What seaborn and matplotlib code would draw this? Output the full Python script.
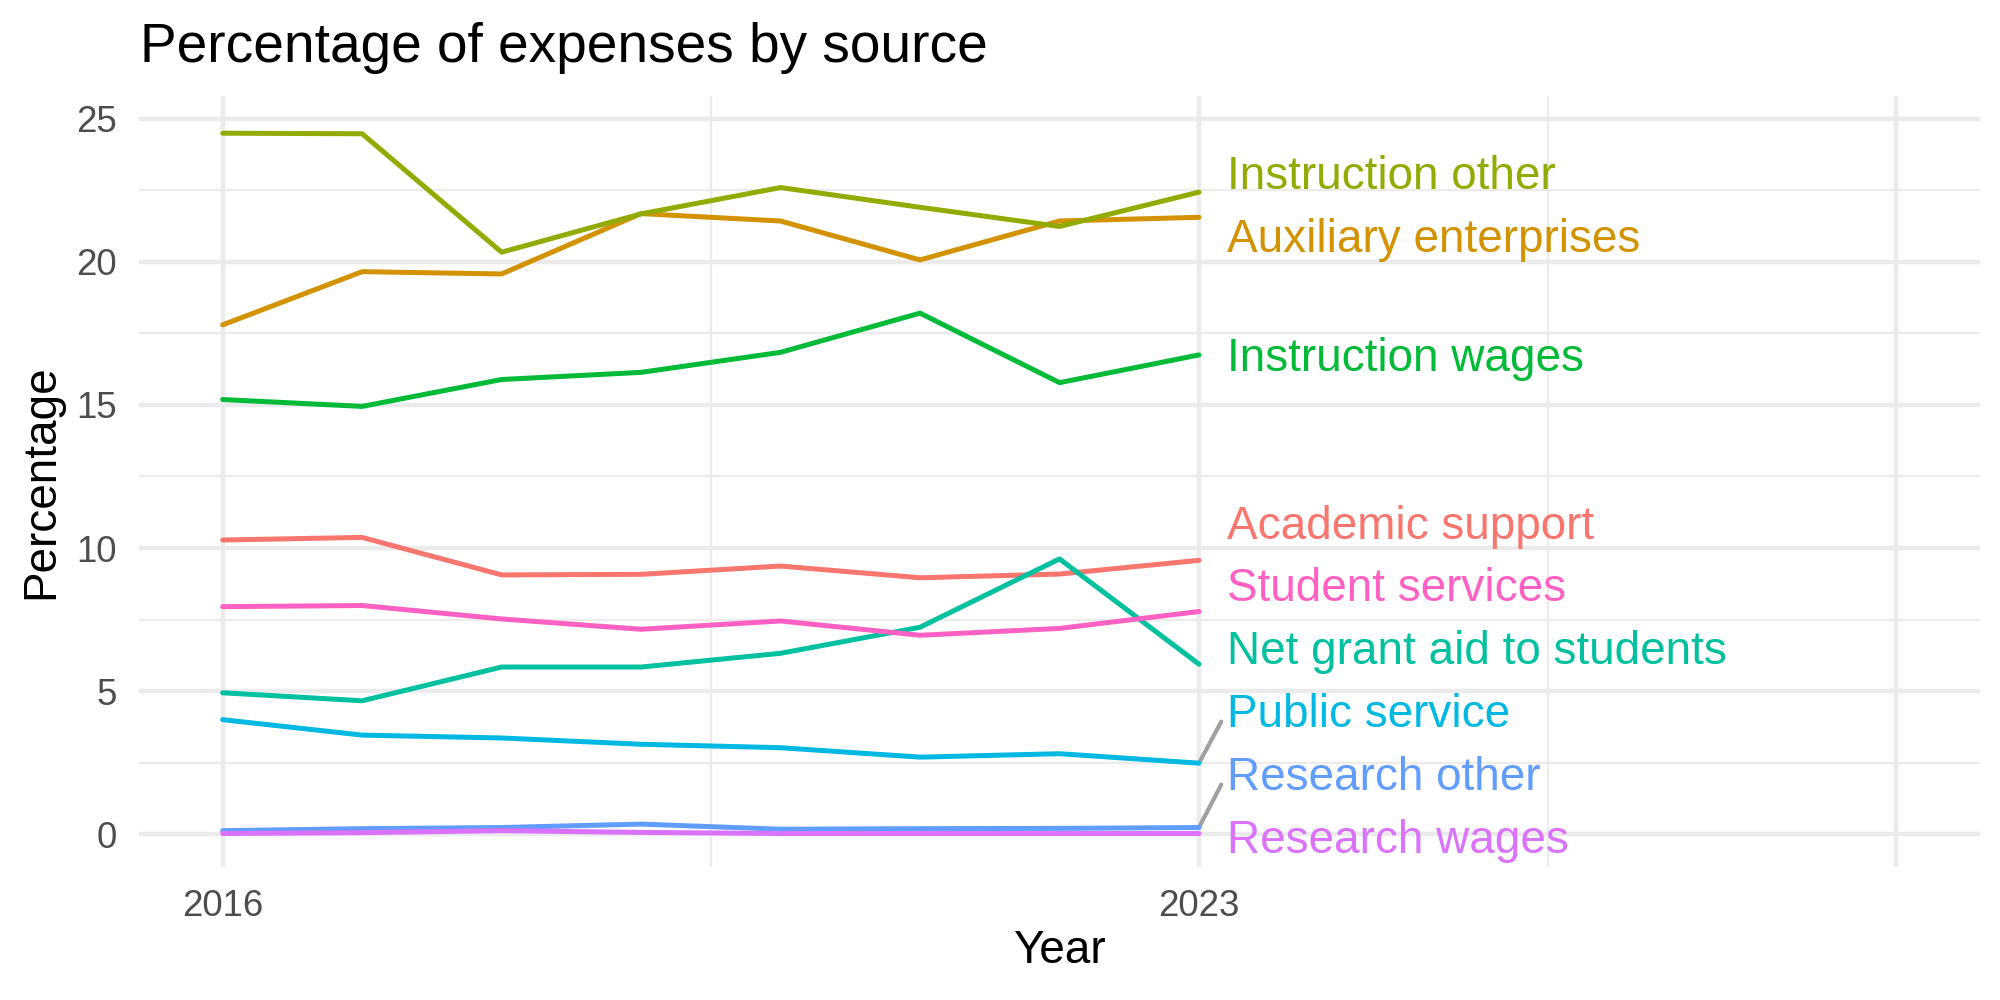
import matplotlib
matplotlib.use('Agg')
import matplotlib.pyplot as plt
import pandas as pd
import seaborn as sns

# values (percent of expenses)
years = [2016, 2017, 2018, 2019, 2020, 2021, 2022, 2023]
academic_support = [10.28, 10.37, 9.06, 9.08, 9.37, 8.96, 9.09, 9.57]
auxiliary_enterprises = [17.80, 19.66, 19.58, 21.69, 21.43, 20.07, 21.43, 21.56]
instruction_other = [24.50, 24.48, 20.34, 21.68, 22.60, 21.91, 21.24, 22.44]
instruction_wages = [15.19, 14.95, 15.89, 16.14, 16.84, 18.21, 15.78, 16.75]
net_grant_aid = [4.94, 4.66, 5.84, 5.84, 6.32, 7.23, 9.62, 5.94]
public_service = [4.00, 3.46, 3.36, 3.14, 3.02, 2.69, 2.81, 2.48]
research_other = [0.12, 0.19, 0.23, 0.35, 0.17, 0.19, 0.20, 0.23]
research_wages = [0.02, 0.05, 0.12, 0.06, 0.02, 0.02, 0.02, 0.02]
student_services = [7.95, 7.99, 7.52, 7.16, 7.45, 6.95, 7.19, 7.78]

series = {
    'Academic support': academic_support,
    'Auxiliary enterprises': auxiliary_enterprises,
    'Instruction other': instruction_other,
    'Instruction wages': instruction_wages,
    'Net grant aid to students': net_grant_aid,
    'Public service': public_service,
    'Research other': research_other,
    'Research wages': research_wages,
    'Student services': student_services,
}
colors = ['#F8766D', '#D39200', '#93AA00', '#00BA38', '#00C19F',
          '#00B9E3', '#619CFF', '#DB72FB', '#FF61C3']
palette = dict(zip(series.keys(), colors))

df = pd.concat([pd.DataFrame({'Year': years, 'Percentage': v, 'source': k})
                for k, v in series.items()], ignore_index=True)

sns.set_theme(style='white')
plt.rcParams['font.family'] = ['Liberation Sans', 'DejaVu Sans']

fig = plt.figure(figsize=(2000 / 300, 1000 / 300), dpi=300)
ax = fig.add_axes([0.0695, 0.133, 0.9205, 0.771])

sns.lineplot(data=df, x='Year', y='Percentage', hue='source', palette=palette,
             linewidth=1.2, legend=False, ax=ax, zorder=3)

ax.set_xlim(2015.4, 2028.6)
ax.set_ylim(-1.15, 25.8)
ax.set_xticks([2016, 2023, 2028])
ax.set_xticklabels(['2016', '2023', ''])
ax.set_xticks([2019.5, 2025.5], minor=True)
ax.set_yticks([0, 5, 10, 15, 20, 25])
ax.set_yticks([2.5, 7.5, 12.5, 17.5, 22.5], minor=True)
ax.grid(True, which='major', color='#EBEBEB', linewidth=1.07)
ax.grid(True, which='minor', color='#EBEBEB', linewidth=0.53)
ax.set_axisbelow(True)
for s in ax.spines.values():
    s.set_visible(False)
ax.tick_params(axis='both', which='both', length=0, labelsize=8.8,
               labelcolor='#4D4D4D', pad=5.3)
ax.set_xlabel('')
ax.set_ylabel('')


# simple label repel: stack labels at the line ends, keep a minimum gap
def spread_labels(ends, gap, lo):
    order = sorted(range(len(ends)), key=lambda i: ends[i])
    clusters = [[i] for i in order]

    def start_of(k):
        cl = clusters[k]
        s = sum(ends[i] for i in cl) / len(cl) - gap * (len(cl) - 1) / 2
        return max(s, lo) if k == 0 else s

    merged = True
    while merged:
        merged = False
        for k in range(len(clusters) - 1):
            top = start_of(k) + gap * (len(clusters[k]) - 1)
            if start_of(k + 1) - top < gap:
                clusters[k] = clusters[k] + clusters[k + 1]
                del clusters[k + 1]
                merged = True
                break
    pos = {}
    for k, cl in enumerate(clusters):
        s = start_of(k)
        for j, i in enumerate(cl):
            pos[i] = s + j * gap
    return [pos[i] for i in range(len(ends))]


names = list(series.keys())
ends = [series[n][-1] for n in names]
label_y = spread_labels(ends, 2.2, -0.12)
x_end = years[-1]
for n, e, ly in zip(names, ends, label_y):
    ax.text(x_end + 0.2, ly - 0.13, n, color=palette[n], fontsize=11,
            ha='left', va='center', zorder=4)
    if ly - e > 1.5:
        ax.plot([x_end, x_end + 0.16], [e, ly - 0.35], color='#A0A0A0',
                linewidth=1.0, zorder=2)

fig.text(0.07, 1 - 0.062, 'Percentage of expenses by source', fontsize=13.2,
         ha='left', va='baseline', color='black')
fig.text(0.0205, 1 - 0.4815, 'Percentage', fontsize=11, rotation=90,
         ha='center', va='center', color='black')
fig.text(0.5298, 1 - 0.951, 'Year', fontsize=11, ha='center', va='center',
         color='black')

fig.savefig('out.png', dpi=300, facecolor='white')
